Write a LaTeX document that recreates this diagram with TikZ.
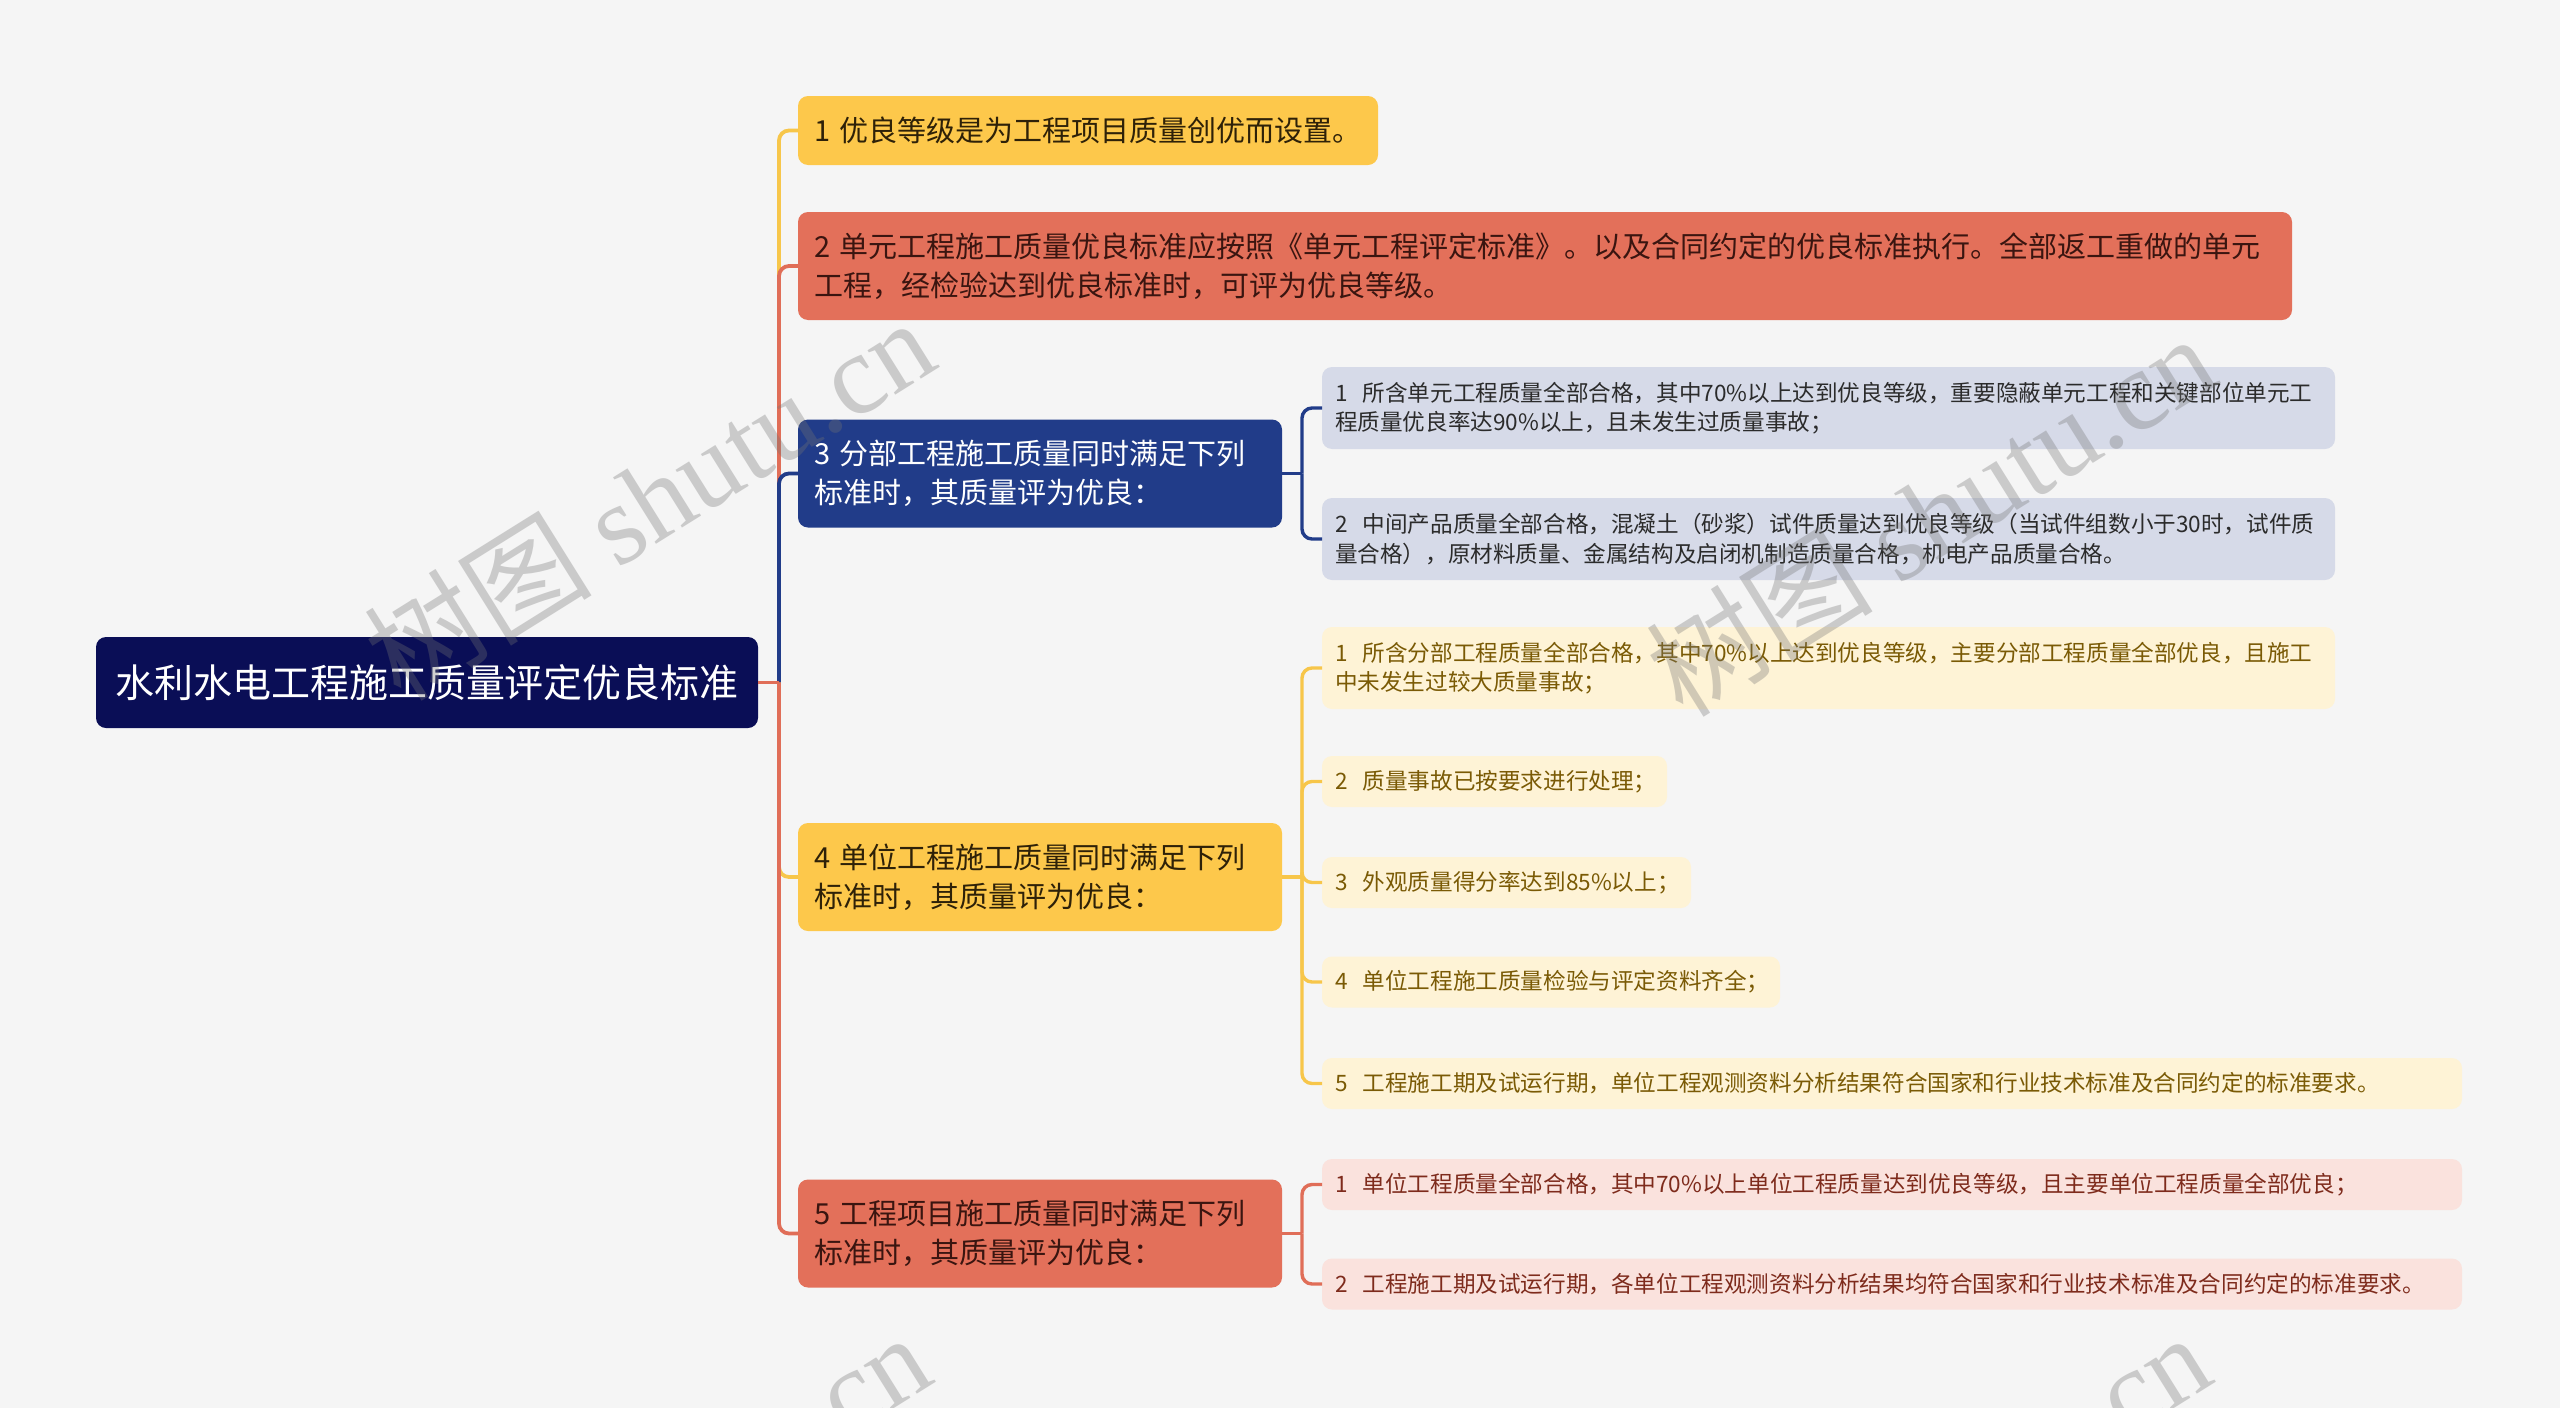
\documentclass[tikz,border=0pt]{standalone}
\usepackage{fontspec}
\setmainfont{Noto Sans CJK SC}
\newfontfamily\wmserif{Liberation Serif}
\usetikzlibrary{calc}

\definecolor{bgc}{HTML}{F5F5F5}
\definecolor{rootc}{HTML}{0A0E56}
\definecolor{yelc}{HTML}{FDC84B}
\definecolor{redc}{HTML}{E3705A}
\definecolor{navyc}{HTML}{213C89}
\definecolor{lbluec}{HTML}{D6DAE8}
\definecolor{creamc}{HTML}{FEF3D6}
\definecolor{pinkc}{HTML}{FAE2DD}
\definecolor{ylline}{HTML}{F7C64A}
\definecolor{rdline}{HTML}{E06E58}
\definecolor{nvline}{HTML}{213C89}
\definecolor{txtdark}{HTML}{2E2108}
\definecolor{txtred}{HTML}{3A1510}
\definecolor{tthree}{HTML}{2B2B2B}
\definecolor{tfour}{HTML}{7A5A05}
\definecolor{tfive}{HTML}{7E2B1C}

\begin{document}
\begin{tikzpicture}[x=0.5pt,y=-0.5pt,
  box/.style={rectangle, rounded corners=5pt, anchor=west, align=left, inner ysep=0pt, outer sep=0pt},
  rootbox/.style={box, fill=rootc, text=white, font=\fontsize{19.5}{24}\selectfont, align=center,
     minimum width=331pt, minimum height=45.5pt, inner xsep=0pt},
  lone/.style={box, inner xsep=8pt, font=\fontsize{14.5}{19.5}\selectfont, minimum height=54pt},
  ltwo/.style={box, inner xsep=6.5pt, font=\fontsize{11.3}{14.7}\selectfont},
  lk/.style={line width=1.9pt},
  lkk/.style={line width=1.7pt, rounded corners=5pt},
  wm/.style={rotate=32, font=\fontsize{57}{57}\selectfont, text=black!55, opacity=0.33, inner sep=0pt}
]
\fill[bgc] (0,0) rectangle (2560,1408);
\useasboundingbox (0,0) rectangle (2560,1408);

% root
\node[rootbox] (root) at (96,682.5) {水利水电工程施工质量评定优良标准};

% level 1
\node[lone, fill=yelc, text=txtdark, minimum width=290pt, text width=274pt, minimum height=34.5pt] (n1) at (798,130.5)
  {1~优良等级是为工程项目质量创优而设置。};
\node[lone, fill=redc, text=txtred, minimum width=747pt, text width=731pt] (n2) at (798,266)
  {2~单元工程施工质量优良标准应按照《单元工程评定标准》。以及合同约定的优良标准执行。全部返工重做的单元\\工程，经检验达到优良标准时，可评为优良等级。};
\node[lone, fill=navyc, text=white, minimum width=242pt, text width=226pt] (n3) at (798,473.5)
  {3~分部工程施工质量同时满足下列\\标准时，其质量评为优良：};
\node[lone, fill=yelc, text=txtdark, minimum width=242pt, text width=226pt] (n4) at (798,877)
  {4~单位工程施工质量同时满足下列\\标准时，其质量评为优良：};
\node[lone, fill=redc, text=txtred, minimum width=242pt, text width=226pt] (n5) at (798,1233.5)
  {5~工程项目施工质量同时满足下列\\标准时，其质量评为优良：};

% level 2 under 3
\node[ltwo, fill=lbluec, text=tthree, minimum width=506.5pt, text width=493.5pt, minimum height=41pt] (a1) at (1322,408)
  {1~~所含单元工程质量全部合格，其中70\%以上达到优良等级，重要隐蔽单元工程和关键部位单元工\\程质量优良率达90\%以上，且未发生过质量事故；};
\node[ltwo, fill=lbluec, text=tthree, minimum width=506.5pt, text width=493.5pt, minimum height=41pt] (a2) at (1322,539)
  {2~~中间产品质量全部合格，混凝土（砂浆）试件质量达到优良等级（当试件组数小于30时，试件质\\量合格），原材料质量、金属结构及启闭机制造质量合格，机电产品质量合格。};

% level 2 under 4
\node[ltwo, fill=creamc, text=tfour, minimum width=506.5pt, text width=493.5pt, minimum height=41pt] (b1) at (1322,668)
  {1~~所含分部工程质量全部合格，其中70\%以上达到优良等级，主要分部工程质量全部优良，且施工\\中未发生过较大质量事故；};
\node[ltwo, fill=creamc, text=tfour, minimum width=172.5pt, text width=159.5pt, minimum height=25.5pt] (b2) at (1322,781.5)
  {2~~质量事故已按要求进行处理；};
\node[ltwo, fill=creamc, text=tfour, minimum width=184.5pt, text width=171.5pt, minimum height=25.5pt] (b3) at (1322,882.5)
  {3~~外观质量得分率达到85\%以上；};
\node[ltwo, fill=creamc, text=tfour, minimum width=229pt, text width=216pt, minimum height=25.5pt] (b4) at (1322,982)
  {4~~单位工程施工质量检验与评定资料齐全；};
\node[ltwo, fill=creamc, text=tfour, minimum width=570pt, text width=557pt, minimum height=25.5pt] (b5) at (1322,1083.5)
  {5~~工程施工期及试运行期，单位工程观测资料分析结果符合国家和行业技术标准及合同约定的标准要求。};

% level 2 under 5
\node[ltwo, fill=pinkc, text=tfive, minimum width=570pt, text width=557pt, minimum height=25.5pt] (c1) at (1322,1184.5)
  {1~~单位工程质量全部合格，其中70\%以上单位工程质量达到优良等级，且主要单位工程质量全部优良；};
\node[ltwo, fill=pinkc, text=tfive, minimum width=570pt, text width=557pt, minimum height=25.5pt] (c2) at (1322,1284)
  {2~~工程施工期及试运行期，各单位工程观测资料分析结果均符合国家和行业技术标准及合同约定的标准要求。};

% junctions
\coordinate (rj) at ([xshift=10.5pt]root.east);
\coordinate (j3) at ([xshift=10pt]n3.east);
\coordinate (j4) at ([xshift=10pt]n4.east);
\coordinate (j5) at ([xshift=10pt]n5.east);

% level 1 connectors
\draw[lk, ylline] (root.east) -- (rj);
\draw[lk, ylline, rounded corners=5pt] (rj) -- (rj |- n1.west) -- (n1.west);
\draw[lk, rdline] (root.east) -- (rj);
\draw[lk, rdline, rounded corners=5pt] (rj) -- (rj |- n2.west) -- (n2.west);
\draw[lk, nvline] (root.east) -- (rj);
\draw[lk, nvline, rounded corners=5pt] (rj) -- (rj |- n3.west) -- (n3.west);
\draw[lk, ylline] (root.east) -- (rj);
\draw[lk, ylline, rounded corners=5pt] (rj) -- (rj |- n4.west) -- (n4.west);
\draw[lk, rdline] (root.east) -- (rj);
\draw[lk, rdline, rounded corners=5pt] (rj) -- (rj |- n5.west) -- (n5.west);

% level 2 connectors
\draw[lk, nvline] (n3.east) -- (j3);
\draw[lkk, nvline] (j3) -- (j3 |- a1.west) -- (a1.west);
\draw[lkk, nvline] (j3) -- (j3 |- a2.west) -- (a2.west);

\draw[lk, ylline] (n4.east) -- (j4);
\draw[lkk, ylline] (j4) -- (j4 |- b1.west) -- (b1.west);
\draw[lkk, ylline] (j4) -- (j4 |- b2.west) -- (b2.west);
\draw[lkk, ylline] (j4) -- (j4 |- b3.west) -- (b3.west);
\draw[lkk, ylline] (j4) -- (j4 |- b4.west) -- (b4.west);
\draw[lkk, ylline] (j4) -- (j4 |- b5.west) -- (b5.west);

\draw[lk, rdline] (n5.east) -- (j5);
\draw[lkk, rdline] (j5) -- (j5 |- c1.west) -- (c1.west);
\draw[lkk, rdline] (j5) -- (j5 |- c2.west) -- (c2.west);

% watermarks
\begin{scope}
\clip (0,0) rectangle (2560,1408);
\node[wm] (wm1) at (649,498) {树图 {\wmserif shutu.cn}};
\node[wm] (wm2) at (1930,514) {树图 {\wmserif shutu.cn}};
\node[wm] (wm3) at (645,1513) {树图 {\wmserif shutu.cn}};
\node[wm] (wm4) at (1925,1513) {树图 {\wmserif shutu.cn}};
\end{scope}
\end{tikzpicture}
\end{document}
